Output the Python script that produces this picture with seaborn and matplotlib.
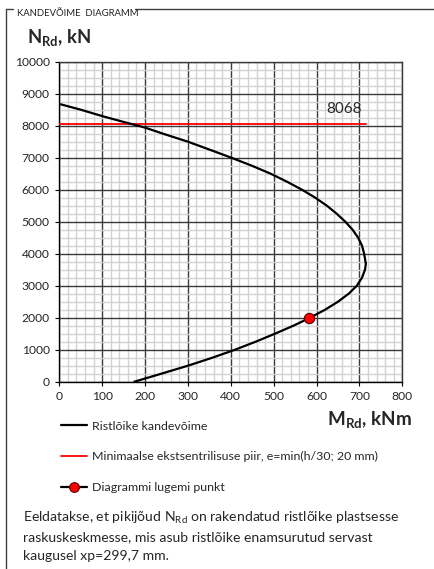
import matplotlib
matplotlib.use('Agg')
import matplotlib.pyplot as plt
import seaborn as sns
import pandas as pd
from matplotlib.lines import Line2D
from matplotlib.ticker import MultipleLocator

# ---- data ----
# upper branch (from pure compression down to the balance point), then lower branch
m_rd = [0, 50, 100, 155, 200, 242, 300, 351, 401, 449, 493, 531, 566, 597, 624,
        647, 667, 684, 697, 706, 711, 715,
        713, 706, 694, 675, 650, 620, 585, 546, 503, 458, 410, 357, 300, 238, 175]
n_rd = [8680, 8500, 8300, 8100, 7940, 7750, 7500, 7250, 7000, 6750, 6500, 6250, 6000, 5750, 5500,
        5250, 5000, 4750, 4500, 4250, 4000, 3680,
        3500, 3250, 3000, 2750, 2500, 2250, 2000, 1750, 1500, 1250, 1000, 750, 500, 250, 0]
min_ecc_value = 8068
min_ecc_m = [0, 716]
point_m = [583]
point_n = [2000]
x_ticks = [0, 100, 200, 300, 400, 500, 600, 700, 800]
y_ticks = [0, 1000, 2000, 3000, 4000, 5000, 6000, 7000, 8000, 9000, 10000]
legend_labels = ["Ristlõike kandevõime",
                 "Minimaalse ekstsentrilisuse piir, e=min(h/30; 20 mm)",
                 "Diagrammi lugemi punkt"]
title_text = "KANDEVÕIME  DIAGRAMM"
y_label = r"$\mathbf{N_{Rd}}$, kN"
x_label = r"$\mathbf{M_{Rd}}$, kNm"
note_lines = [r"Eeldatakse, et pikijõud $\mathrm{N_{Rd}}$ on rakendatud ristlõike plastsesse",
              "raskuskeskmesse, mis asub ristlõike enamsurutud servast",
              "kaugusel xp=299,7 mm."]

# ---- style ----
sns.set_style('white')
plt.rcParams['font.family'] = ['Lato', 'DejaVu Sans']
plt.rcParams['mathtext.fontset'] = 'custom'
plt.rcParams['mathtext.rm'] = 'Lato'
plt.rcParams['mathtext.bf'] = 'Lato:bold'
plt.rcParams['mathtext.it'] = 'Lato:italic'

W, H = 435, 569
fig = plt.figure(figsize=(W / 100, H / 100), dpi=100)
fig.patch.set_facecolor('white')

def fx(px):
    return px / W

def fy(py):
    return 1 - py / H

ax = fig.add_axes([fx(59.3), fy(381.7), fx(402.3) - fx(59.3), fy(61.7) - fy(381.7)])

curve_df = pd.DataFrame({'M': m_rd, 'N': n_rd})
sns.lineplot(data=curve_df, x='M', y='N', sort=False, estimator=None,
             color='black', lw=1.6, ax=ax, zorder=4)
line_df = pd.DataFrame({'M': min_ecc_m, 'N': [min_ecc_value] * len(min_ecc_m)})
sns.lineplot(data=line_df, x='M', y='N', sort=False, estimator=None,
             color='#ff0000', lw=1.3, ax=ax, zorder=3)
pt_df = pd.DataFrame({'M': point_m, 'N': point_n})
sns.scatterplot(data=pt_df, x='M', y='N', color='#ff0000', edgecolor='#5a0000',
                s=55, linewidth=0.8, ax=ax, zorder=6)

ax.annotate(str(min_ecc_value), xy=(665, min_ecc_value), xytext=(0, 5.5),
            textcoords='offset points', ha='center', va='bottom', fontsize=11)

ax.set_xlim(x_ticks[0], x_ticks[-1])
ax.set_ylim(y_ticks[0], y_ticks[-1])
ax.set_xticks(x_ticks)
ax.set_yticks(y_ticks)
ax.xaxis.set_minor_locator(MultipleLocator(20))
ax.yaxis.set_minor_locator(MultipleLocator(250))
ax.grid(which='minor', color='#d2d2d2', lw=1.0)
ax.grid(which='major', color='#3a3a3a', lw=1.0)
ax.set_axisbelow(True)
ax.tick_params(which='major', direction='out', length=3, width=0.8, color='black',
               labelsize=8.7, bottom=True, left=True)
ax.tick_params(axis='x', pad=4)
ax.tick_params(axis='y', pad=4)
ax.tick_params(which='minor', length=0)
ax.set_xlabel('')
ax.set_ylabel('')
for s in ['left', 'bottom']:
    ax.spines[s].set_color('black')
    ax.spines[s].set_linewidth(1.0)
for s in ['top', 'right']:
    ax.spines[s].set_color('#3a3a3a')
    ax.spines[s].set_linewidth(1.0)
if ax.get_legend():
    ax.get_legend().remove()

# axis titles
fig.text(fx(27), fy(38), y_label, fontsize=13.3, fontweight='bold', ha='left', va='center')
fig.text(fx(412), fy(420), x_label, fontsize=13.6, fontweight='bold', ha='right', va='center')

# legend
handles = [Line2D([], [], color='black', lw=1.6),
           Line2D([], [], color='#ff0000', lw=1.3),
           Line2D([], [], color='black', lw=1.6, marker='o', markersize=7,
                  markerfacecolor='#ff0000', markeredgecolor='#5a0000', markeredgewidth=0.8)]
leg = fig.legend(handles, legend_labels, loc='upper left',
                 bbox_to_anchor=(fx(61.5), fy(420.5)), frameon=False, fontsize=8.9,
                 handlelength=2.1, handletextpad=0.35, labelspacing=1.6,
                 borderpad=0, borderaxespad=0)

# note
for i, line in enumerate(note_lines):
    fig.text(fx(23), fy(517.5 + 19.3 * i), line, fontsize=10.1, ha='left', va='center')

# frame & title
frame_kw = dict(transform=fig.transFigure, color='#404040', lw=1.0)
fig.add_artist(Line2D([fx(6), fx(6)], [0, fy(8.5)], **frame_kw))
fig.add_artist(Line2D([fx(6), fx(13)], [fy(8.5), fy(8.5)], **frame_kw))
fig.add_artist(Line2D([fx(135), 1], [fy(8.5), fy(8.5)], **frame_kw))
fig.text(fx(17), fy(13), title_text, fontsize=6.8, ha='left', va='center', color='#222222')

fig.savefig('out.png', dpi=100, facecolor='white')
